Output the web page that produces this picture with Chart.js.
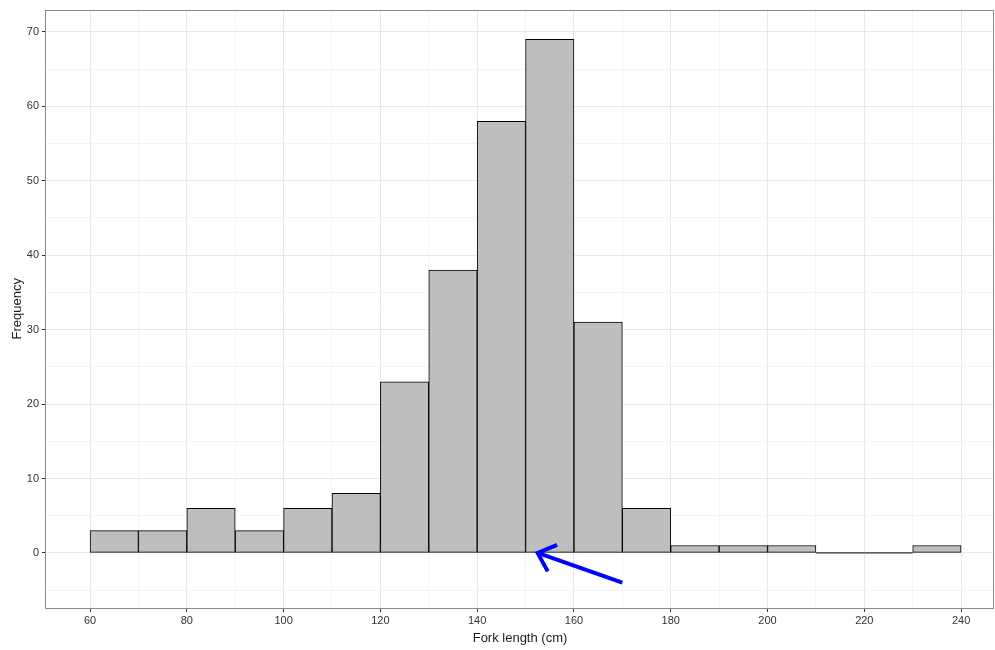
<!DOCTYPE html>
<html>
<head>
<meta charset="utf-8">
<script src="https://cdn.jsdelivr.net/npm/chart.js@4/dist/chart.umd.min.js"></script>
<style>
  html, body { margin: 0; padding: 0; background: #fff; }
  #wrap { width: 995px; height: 650px; }
</style>
</head>
<body>
<div id="wrap"><canvas id="hist" width="995" height="650"></canvas></div>
<script>
/* Histogram data: bins of 10 cm, counts */
var binStarts = [60, 70, 80, 90, 100, 110, 120, 130, 140, 150, 160, 170, 180, 190, 200, 210, 220, 230];
var binWidth = 10;
var counts = [3, 3, 6, 3, 6, 8, 23, 38, 58, 69, 31, 6, 1, 1, 1, 0, 0, 1];

/* Annotation arrow, tail then tip, in data units */
var arrowX = [170, 152.5];
var arrowY = [-4, 0];

/* Axis ticks */
var xTicks = [60, 70, 80, 90, 100, 110, 120, 130, 140, 150, 160, 170, 180, 190, 200, 210, 220, 230, 240];
var xLabelEvery = 20;
var yTicks = [-5, 0, 5, 10, 15, 20, 25, 30, 35, 40, 45, 50, 55, 60, 65, 70];
var yLabelEvery = 10;

var barData = binStarts.map(function (s, i) {
  return { x: s + binWidth / 2, y: counts[i] };
});

/* empty bins still show their outline as a flat line at zero */
var zeroLine = [];
binStarts.forEach(function (s, i) {
  if (counts[i] === 0) {
    zeroLine.push({ x: s, y: 0 });
    zeroLine.push({ x: s + binWidth, y: 0 });
  } else if (zeroLine.length) {
    zeroLine.push({ x: s, y: NaN });
  }
});

var arrowData = arrowX.map(function (x, i) { return { x: x, y: arrowY[i] }; });

function isMajor(c, every) {
  if (!c || !c.tick) return true;
  return Math.abs(c.tick.value % every) < 1e-9;
}

var panelPlugin = {
  id: 'panel',
  afterDraw: function (chart) {
    var a = chart.chartArea, ctx = chart.ctx;
    ctx.save();
    ctx.strokeStyle = '#8a8a8a';
    ctx.lineWidth = 1;
    ctx.strokeRect(Math.round(a.left) - 0.5, Math.round(a.top) + 0.5,
      Math.round(a.right - a.left), Math.round(a.bottom - a.top));
    ctx.restore();
  }
};

/* arrowhead at the end of the annotation line */
var arrowHeadPlugin = {
  id: 'arrowHead',
  afterDatasetsDraw: function (chart) {
    var xs = chart.scales.x, ys = chart.scales.y, ctx = chart.ctx;
    var n = arrowX.length;
    var tx = xs.getPixelForValue(arrowX[n - 1]), ty = ys.getPixelForValue(arrowY[n - 1]);
    var fx = xs.getPixelForValue(arrowX[n - 2]), fy = ys.getPixelForValue(arrowY[n - 2]);
    var ang = Math.atan2(fy - ty, fx - tx);
    var spread = 42 * Math.PI / 180, len = 21;
    ctx.save();
    ctx.strokeStyle = '#0000ff';
    ctx.lineWidth = 4;
    ctx.lineCap = 'butt';
    ctx.lineJoin = 'miter';
    ctx.beginPath();
    ctx.moveTo(tx + len * Math.cos(ang - spread), ty + len * Math.sin(ang - spread));
    ctx.lineTo(tx, ty);
    ctx.lineTo(tx + len * Math.cos(ang + spread), ty + len * Math.sin(ang + spread));
    ctx.stroke();
    ctx.restore();
  }
};

var ctx = document.getElementById('hist').getContext('2d');
var histChart = new Chart(ctx, {
  type: 'bar',
  data: {
    datasets: [
      {
        type: 'line',
        label: 'arrow',
        data: arrowData,
        borderColor: '#0000ff',
        borderWidth: 4,
        pointRadius: 0,
        order: 0
      },
      {
        type: 'line',
        label: 'empty bins',
        data: zeroLine,
        borderColor: '#000000',
        borderWidth: 1,
        pointRadius: 0,
        spanGaps: false,
        order: 1
      },
      {
        label: 'Frequency',
        data: barData,
        backgroundColor: '#bebebe',
        borderColor: '#000000',
        borderWidth: 1,
        borderSkipped: false,
        barPercentage: 1,
        categoryPercentage: 1,
        order: 2
      }
    ]
  },
  options: {
    responsive: false,
    animation: false,
    devicePixelRatio: 1,
    layout: { padding: { top: 8, right: 1, left: 10, bottom: 0 } },
    plugins: {
      legend: { display: false },
      tooltip: { enabled: false }
    },
    scales: {
      x: {
        type: 'linear',
        offset: false,
        min: 50.9,
        max: 246.8,
        afterBuildTicks: function (scale) {
          scale.ticks = xTicks.map(function (v) { return { value: v }; });
        },
        afterFit: function (scale) { scale.height = 42; },
        grid: {
          offset: false,
          color: function (c) { return isMajor(c, xLabelEvery) ? '#e8e8e8' : '#f4f4f4'; },
          tickColor: function (c) { return isMajor(c, xLabelEvery) ? '#333333' : 'rgba(0,0,0,0)'; },
          tickLength: 4
        },
        border: { display: false },
        ticks: {
          autoSkip: false,
          maxRotation: 0,
          padding: 2,
          color: '#333333',
          font: { family: 'Liberation Sans', size: 11 },
          callback: function (v) { return Math.abs(v % xLabelEvery) < 1e-9 ? String(v) : ''; }
        },
        title: {
          display: true,
          text: 'Fork length (cm)',
          color: '#1a1a1a',
          font: { family: 'Liberation Sans', size: 13 },
          padding: { top: 0, bottom: 4 }
        }
      },
      y: {
        type: 'linear',
        min: -7.4,
        max: 73,
        afterBuildTicks: function (scale) {
          scale.ticks = yTicks.map(function (v) { return { value: v }; });
        },
        afterFit: function (scale) { scale.width = 36; },
        grid: {
          color: function (c) { return isMajor(c, yLabelEvery) ? '#e8e8e8' : '#f4f4f4'; },
          tickColor: function (c) { return isMajor(c, yLabelEvery) ? '#333333' : 'rgba(0,0,0,0)'; },
          tickLength: 4
        },
        border: { display: false },
        ticks: {
          autoSkip: false,
          padding: 3,
          color: '#333333',
          font: { family: 'Liberation Sans', size: 11 },
          callback: function (v) { return Math.abs(v % yLabelEvery) < 1e-9 ? String(v) : ''; }
        },
        title: {
          display: true,
          text: 'Frequency',
          color: '#1a1a1a',
          font: { family: 'Liberation Sans', size: 13 },
          padding: { top: 0, bottom: 0 }
        }
      }
    }
  },
  plugins: [panelPlugin, arrowHeadPlugin]
});
</script>
</body>
</html>
